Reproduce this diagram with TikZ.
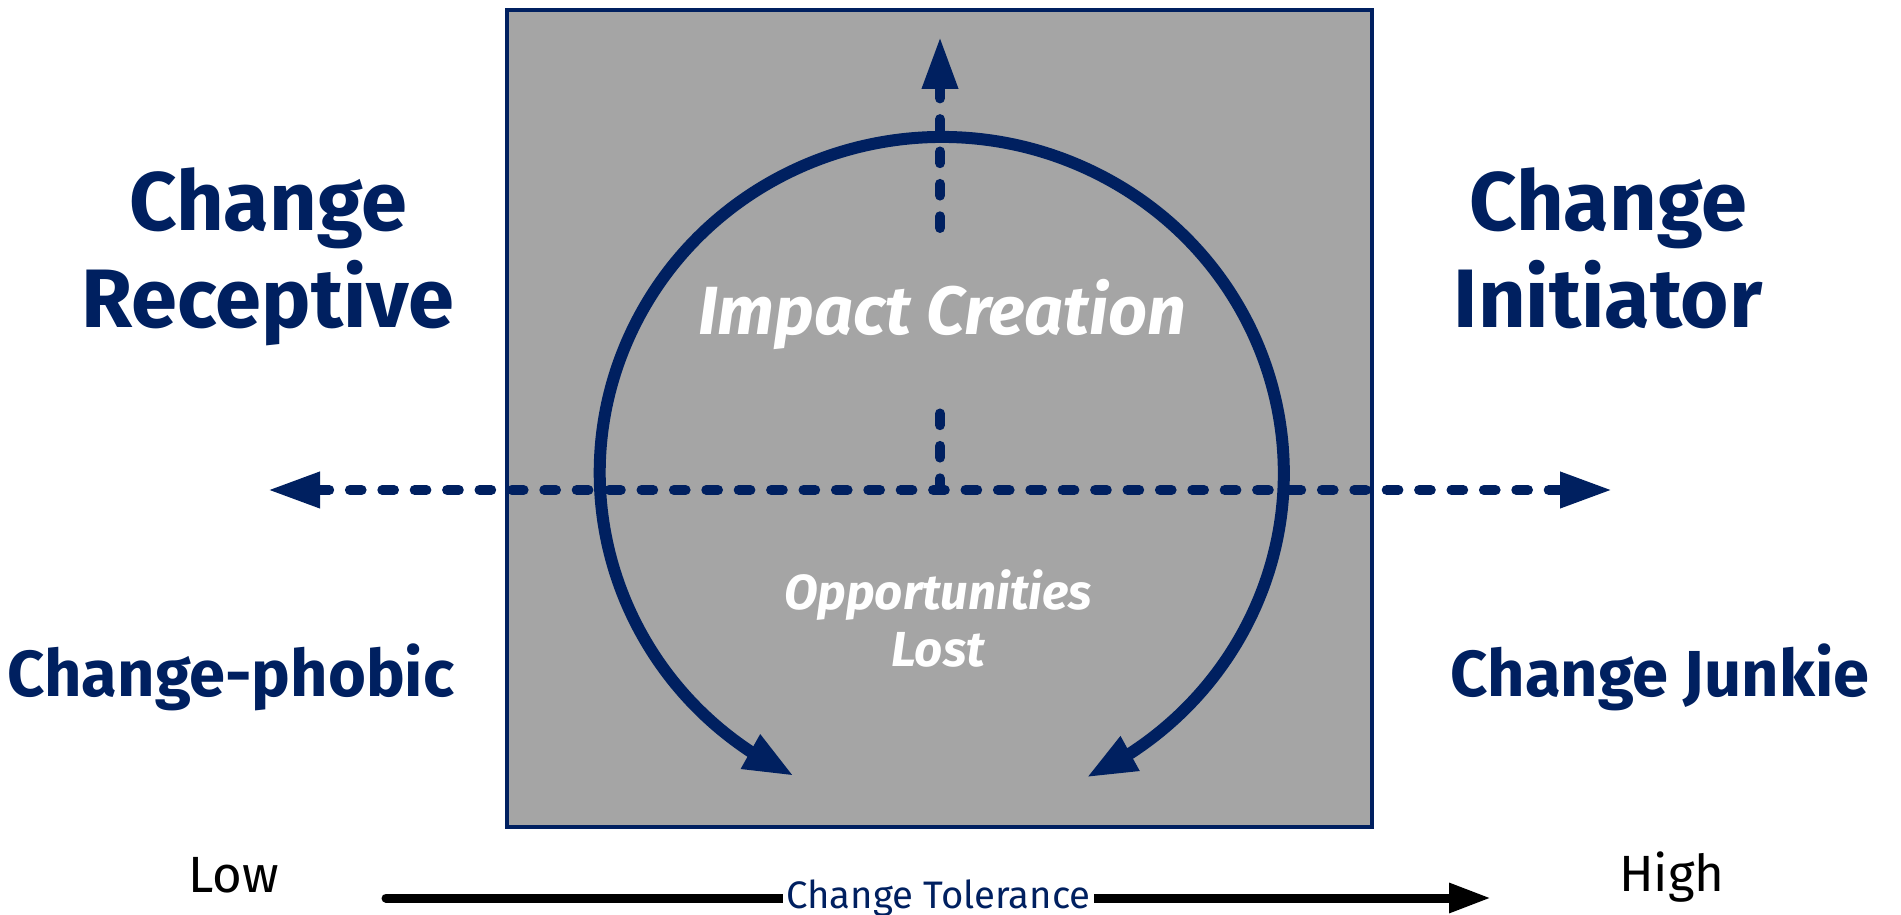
\documentclass[tikz,border=0pt]{standalone}
\usepackage{fontspec}
\setmainfont{Fira Sans}
\usetikzlibrary{arrows.meta,bending}
\definecolor{navy}{RGB}{0,32,96}
\definecolor{boxgray}{RGB}{165,165,165}

\begin{document}
\begin{tikzpicture}[x=0.1mm,y=-0.1mm,
    bigtag/.style={navy,font=\bfseries\fontsize{23.6}{27.6}\selectfont,align=center,inner sep=0pt},
    midtag/.style={navy,font=\bfseries\fontsize{18.5}{22}\selectfont,inner sep=0pt},
    intag/.style={white,font=\bfseries\itshape\fontsize{19.4}{22}\selectfont,inner sep=0pt},
    losttag/.style={white,font=\bfseries\itshape\fontsize{14}{16.2}\selectfont,align=center,inner sep=0pt},
    endtag/.style={black,font=\fontsize{14.5}{17}\selectfont,inner sep=0pt},
    dashline/.style={navy,line width=1mm,line cap=round,dash pattern=on 1.17mm off 2.07mm},
    navytip/.tip={Triangle[length=5.2mm,width=3.4mm]}
]
\useasboundingbox (0,0) rectangle (1901,915);

\coordinate (cBoxNW) at (507, 10);
\coordinate (cBoxSE) at (1372, 827);
\coordinate (cWestPt) at (268, 490);
\coordinate (cEastPt) at (1612, 490);
\coordinate (cMidPt) at (940, 490);
\coordinate (cMidUpPt) at (940, 410);
\coordinate (cTopLowPt) at (940, 228);
\coordinate (cTopPt) at (940, 37);
\coordinate (cArcPt) at (794, 776);
\coordinate (cLowPt) at (386, 898);
\coordinate (cHighPt) at (1491, 898);

\draw [navy, line width=0.45mm, fill=boxgray] (cBoxNW) rectangle (cBoxSE);

\draw [dashline, navytip-navytip] (cWestPt) -- (cEastPt);
\draw [dashline] (cMidPt) -- (cMidUpPt);
\draw [dashline, -navytip] (cTopLowPt) -- (cTopPt);

\draw [navy, line width=1.2mm, {Triangle[length=5mm,width=3.6mm]}-{Triangle[length=5mm,width=3.6mm]}]
    (cArcPt) arc [start angle=115.6, end angle=425, x radius=342, y radius=336];

\draw [line width=0.9mm, line cap=round, -{Triangle[length=4.2mm,width=2.8mm]}] (cLowPt) --
    node [fill=white, inner sep=1pt, text=navy, font=\fontsize{10.9}{12}\selectfont] (nTolerance) {Change Tolerance}
    (cHighPt);

\foreach \v/\a/\s/\p/\t in
{nReceptive/north/bigtag/{268,167}/{Change\\Receptive},
    nInitiator/north/bigtag/{1608,167}/{Change\\Initiator},
    nPhobic/base/midtag/{231,697}/{Change-phobic},
    nJunkie/base/midtag/{1660,697}/{Change Junkie},
    nImpact/base/intag/{942,335}/{Impact Creation},
    nLost/north/losttag/{938,569}/{Opportunities\\Lost},
    nLow/base/endtag/{234,892}/{Low},
    nHigh/base/endtag/{1672,891}/{High}
}
{
    \node [\s, anchor=\a] (\v) at (\p) {\t};
};

\end{tikzpicture}
\end{document}
